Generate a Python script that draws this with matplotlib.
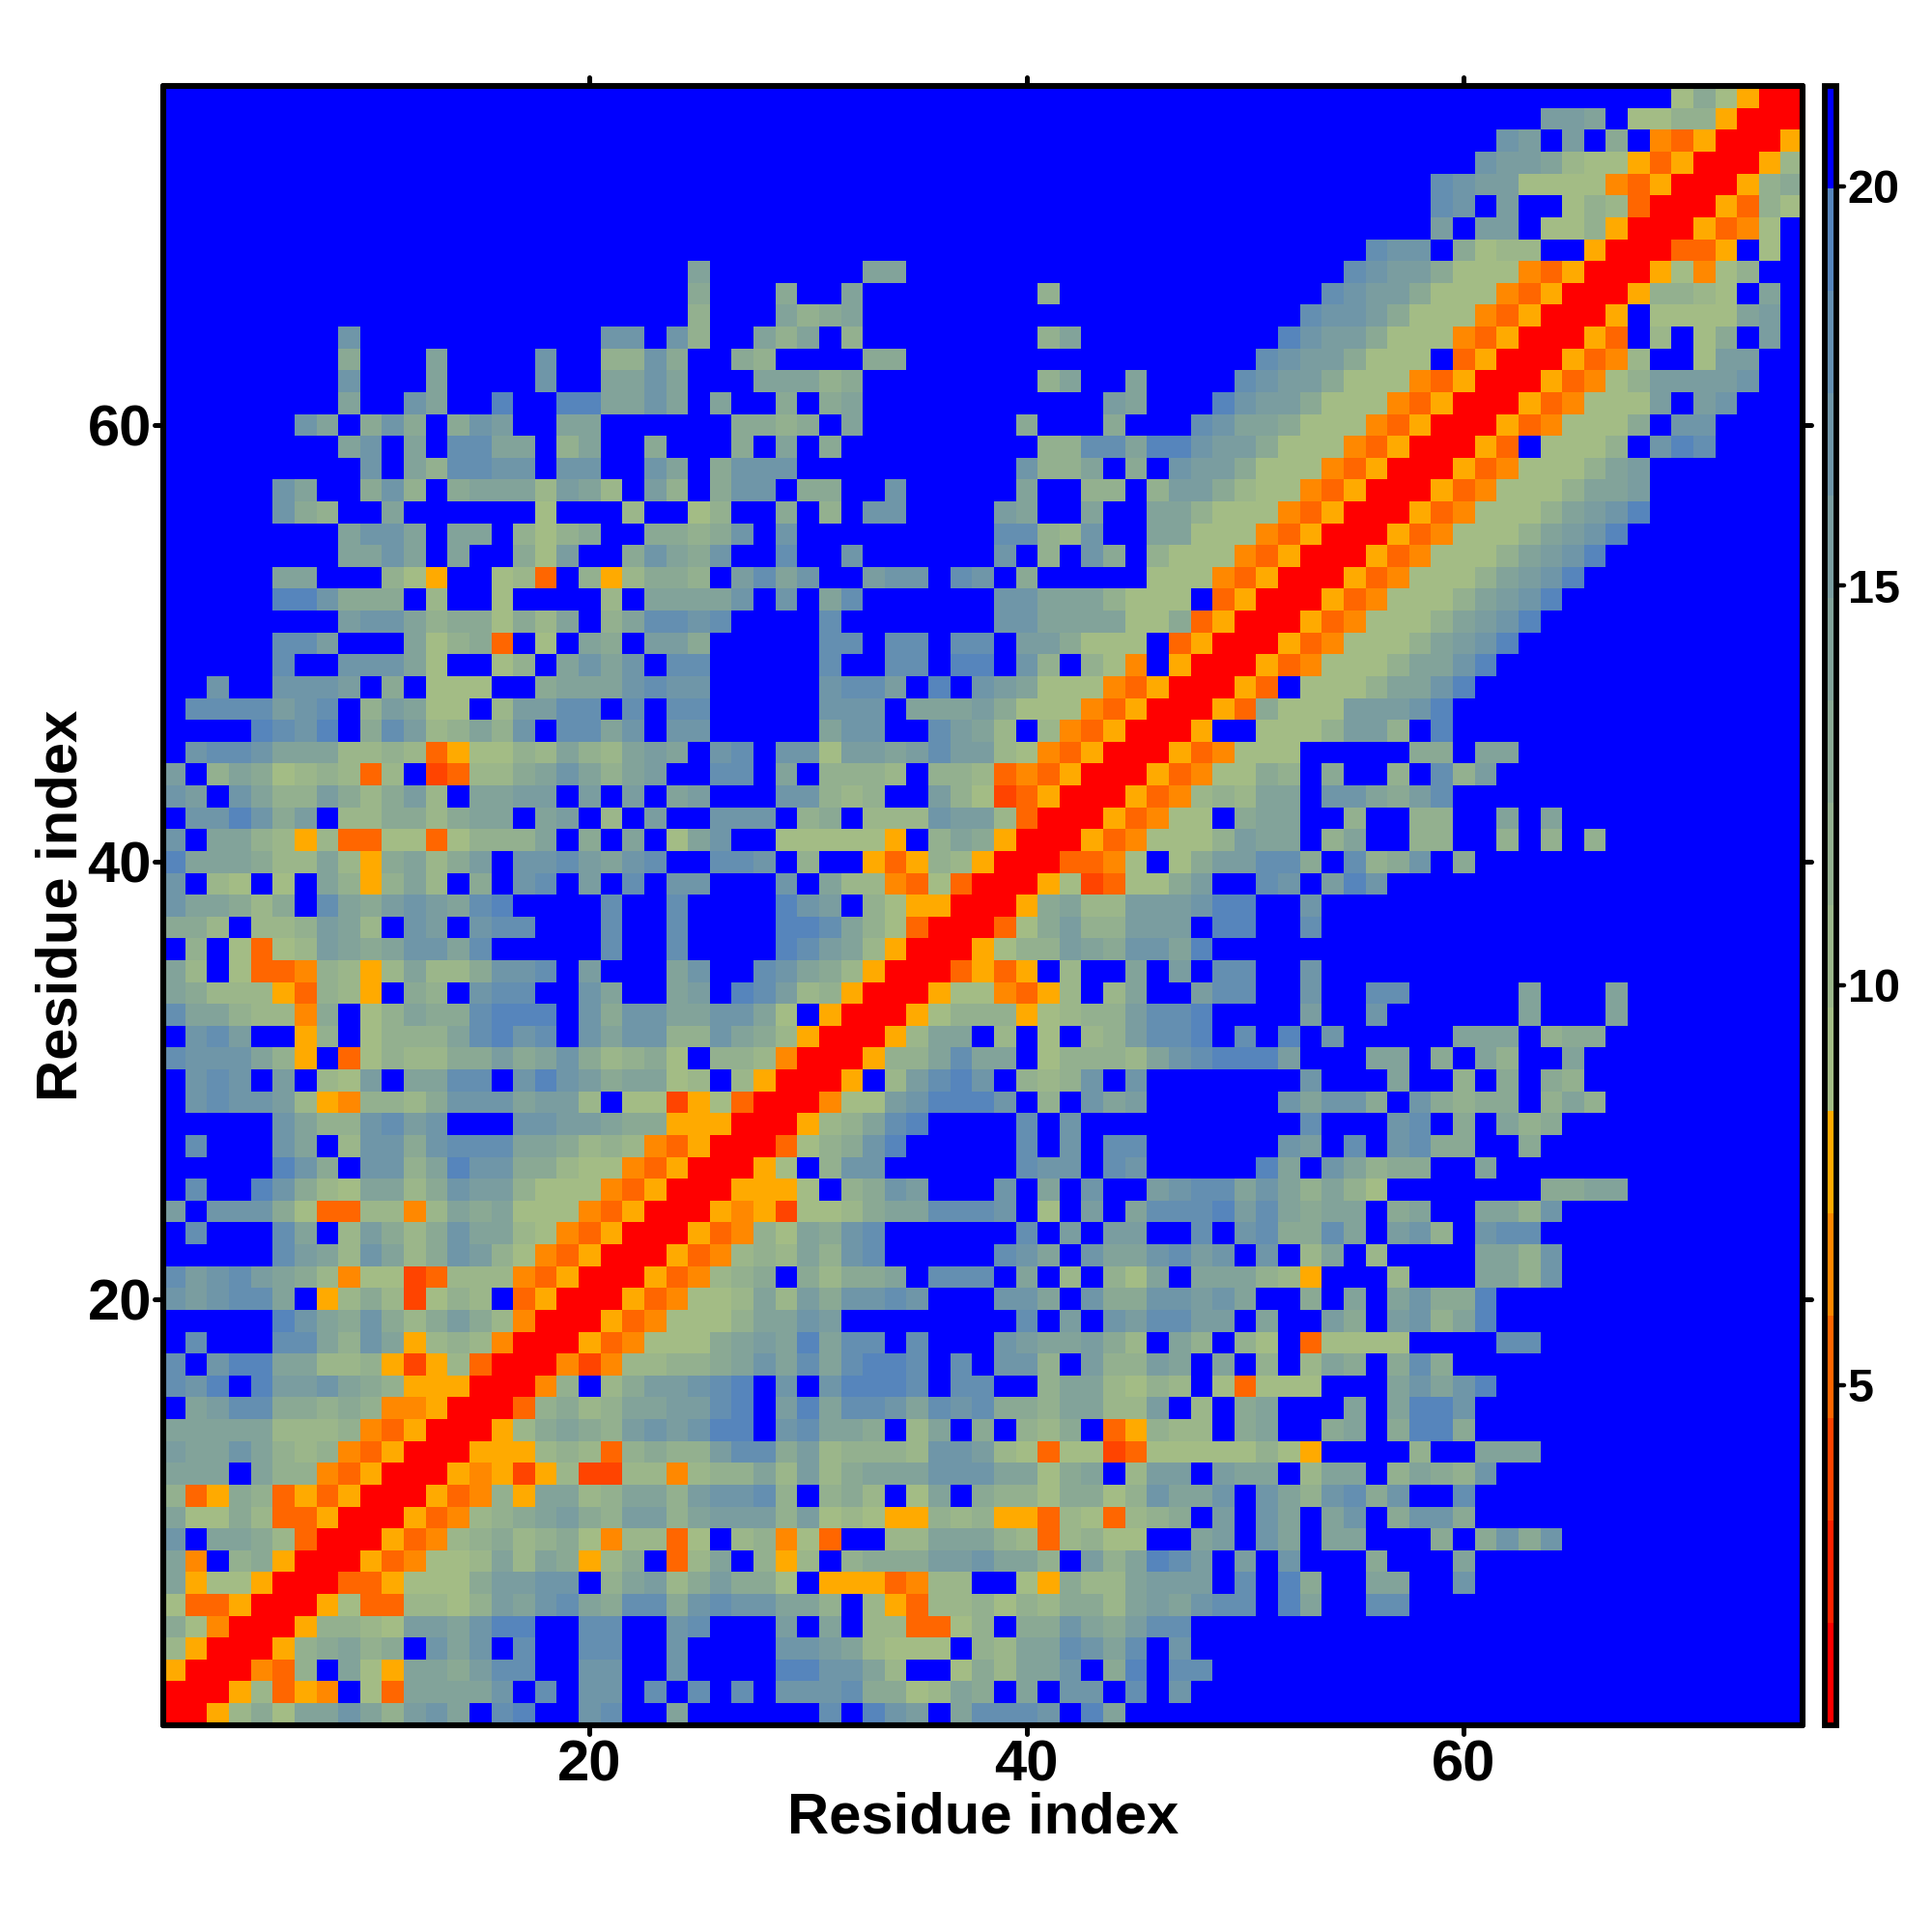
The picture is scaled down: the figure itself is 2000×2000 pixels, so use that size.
import matplotlib
matplotlib.use("Agg")
import matplotlib.pyplot as plt
import matplotlib.lines as mlines
from matplotlib.markers import MarkerStyle
from matplotlib.colors import ListedColormap, BoundaryNorm
import numpy as np

# Each row runs from the top of the map (residue 75) to the bottom (residue 1).
# One character per cell = a colour level of the distance scale.
COLS_01_25 = [
"","","","","","","","",
"..... ..... ..... ..... ....5",
"..... ..... ..... ..... ....4",
"..... ..... ..... ..... ....3",
"..... ...7. ..... ..... 77.73",
"..... ...4. ..5.. ..7.. 3374.",
"..... ...7. ..5.. ..7.. 5575.",
"..... ...5. .75.. 9..99 5575.",
"..... .75.4 74.47 6..55 .....",
"..... ...57 .5.88 55.35 ..4..",
"..... ....7 .5388 77.77 ..75.",
"..... 75..4 73.45 55265 2.63.",
"..... 743.. 5.... ..1.. .2..1",
"..... ...57 75.55 .3134 ..443",
"..... ...55 75.5. .416. .4754",
"..... 55... 31B.. 12D.3 B2443",
"..... 99744 4.2.. 1.... 2.555",
"..... ...67 75344 1425. 35887",
"..... 886.. .5134 D.1.5 4.664",
"..... 8..77 751.. 13.57 57.88",
"..7.. 7776. 4.111 ..455 57877",
".8888 678.3 6511. 26688 .8.88",
"....9 879.4 86235 37.88 57.77",
".7887 55522 32DB1 13253 2565.",
"6.354 1232D 2.ED2 24575 356..",
"76.75 33642 462.5 566.6 .6.56",
".7797 46.22 44245 5.56. 2.6..",
"7.553 2B2DD 11D13 335.4 .5.15",
"95554 2252B 45246 .7786 578..",
"7.21. 1.53B 352.4 .78.6 .8.77",
"75542 4.854 67658 9.... 8..8.",
"442.2 23652 .76.7 88... 8..8.",
".3.1D 12654 57758 ..... 8..8.",
"52.1D DC32B 25224 778.6 ...57",
"54222 BD32B .43.7 88..7 5..56",
"85532 2C4.1 35448 999.7 47755",
".786. .B3.1 33358 978.7 57733",
"87775 3B.D1 32244 64574 2341.",
".787. 6.216 .5588 .7976 45512",
".7877 62BC3 32477 75662 .11EB",
"..... 75337 867.. .7766 544BB",
".8... 75.27 74788 85542 32CDB",
"..... 974.7 73597 74421 1CDBR",
".8..9 74215 52476 63111 CDBRR",
"6.777 41DD2 2C254 5111C DBRRR",
".8... 85.26 42475 521CD BRRRB",
"..... 86527 52476 31CDB RRRBD",
"86786 542C1 1ED22 2CDBR RRBDC",
"76788 5.B24 2E132 .DBRR RBDC1",
"..... 97547 42464 2CRRR BDC11",
".8... 88537 5B232 CRRRB DC111",
"8.799 55223 BEB2D RRRCE C2233",
"879.9 66754 3BBBR RRC3. 24667",
".5688 44343 CCBRR RD342 35566",
"55555 2223C DBRRR B2454 36767",
"65575 323CD BRRRB BB232 D3433",
"555.5 33CDB RRRBC BEB2E E22C2",
"3DB43 DBDBR RRBDC 3B552 35536",
"51142 DDBRR RBDC2 34564 36635",
"7.554 2DRRR BDC23 42341 C22D1",
"5C.34 BRRRB DC112 5254B 24.D2",
"5B11B RRRDD B1114 6677. 35624",
"1DDBR RRB1D D2213 65785 48847",
"41CRR RB332 16657 99..8 8..78",
"2BRRR B3453 4.757 .8..8 8..7.",
"BRRRC D3.51 B5546 88..7 7..7.",
"RRRB2 DBC.1 D5555 7.8.7 7.8.8",
"RRB24 15575 3675. 89..7 8..5.",
]
COLS_26_50 = [
"","","","","","","","",
"..... ..55. ..... ..... .....",
"...4. .5... ..... 3.... .....",
"...53 45... ..... ..... .....",
"..535 .3... ..... 35... .....",
".43.. ..44. ..... ..... .....",
"..555 34... ..... 35..5 ....8",
"5..4. 45... ..... ...65 ...97",
".4434 .5... ....4 ...4. ..875",
".4.5. 4.... ..... 33885 99766",
"4777. ..... ....7 335.4 .7664",
"477.4 4..7. ....5 ..33. 36642",
"3..4. 3.77. ...65 ..5.. 55311",
"47.7. ..... ...88 327.. 55111",
"7..8. .7... ...7. 3.74. 3111C",
".6857 ..677 .87.4 ..... 111CD",
"57.7. 58... ...77 55531 11.DB",
"8.... 8.... ...77 55551 14DBR",
"..... 88.88 .88.6 64111 .DBRR",
"..... 8..88 .99.7 3.31C .BRRR",
"..... 7886. 9.765 111CD BRRRB",
"..... 777.5 55641 11CDB RRRBD",
"..... 577.. 8652. 2CDBR RRB..",
"78.77 16656 86621 CDBRR RBDC1",
"88.5. 3332. 332DC DBRRR BDC11",
"...77 323.. 631ED BRRRB DC232",
"777.3 4.222 7662D RRRBD C11.4",
"7..11 111B. 354BR RRBDC 11136",
"887.3 ..BDB 32BRR RDDC1 .1466",
"...7. 522CD 1DRRR B1ED1 146..",
"...97 6.31B BRRRB 45226 66799",
"...99 8531D RRRD1 46336 66.99",
"...98 652BR RRB13 36547 759..",
"..875 42BRR RDBDB .2..5 .6.88",
".9862 3BRRR B11CD B2.25 ..688",
"7751. BRRRB 1333B 12336 889..",
"7542B RRRB2 55.2. 1.236 889.8",
"332CR RRB33 5855. 13332 57899",
".2BRR RB.26 897.3 237.7 .....",
"1DRRR C1167 9997. 3.756 .....",
"BRRRB 23589 ....8 .7... .....",
"RRRD1 3479. ....8 .7.88 .....",
"RRB1. 377.. ....8 77.87 .....",
"RBBB1 .3476 ...7. 5.7.. 67885",
"BCBE1 12455 8887. 1.6.5 88896",
"DC315 478.. ....8 .6.66 ..8.7",
"C2325 378.. ...87 5.755 7867.",
"234.4 2445. 888.5 .2.31 5.555",
"12526 47787 ...77 5.744 77675",
"13557 6.... ....8 .6.76 8866.",
"45659 588.8 ...76 55642 .53.3",
"45758 58998 .8.77 3.633 65.5.",
"89.7. 79998 .88.. 35521 32.1D",
"89.69 58875 87844 35522 6.2.4",
"99.78 554.2 5.4.3 24.DB 322.4",
"68846 23332 77621 D11ED 11111",
"33526 24555 77755 145.2 66.65",
"7783. 342.1 5.433 14413 7557.",
"66636 121BB 323BB D21D2 34.6.",
".23C1 D..22 55532 D2311 ..56.",
"5.3B2 .3444 66755 3.635 986.6",
"6441. BBBDC 22..1 B4225 666.8",
"87755 3.2BD 22313 24425 65788",
"...6. 5.22D D13.4 47546 88...",
"...77 65211 1.325 58758 .7...",
"...99 7752. .1425 57.49 .88..",
".8.77 78441 254.5 .77.8 .7...",
"..... 8.976 .5888 7.95. .....",
]
COLS_51_75 = [
"..... ..... ..... ....1 41BRR",
"..... ..... ...66 5.113 3BRRR",
"..... ..... .76.6 .4.CD BRRRB",
"..... ..... 76652 11BDB RRRB2",
"..... ...87 66111 1CDBR RRB34",
"..... ...87 .6..1 32DRR RBD31",
"..... ...6. 66.11 3BRRR BDC1.",
"..... 877.4 122.. BRRRD DB.1.",
"....8 76641 11CDB RRRB1 C13..",
"...87 66411 1CDBR RRB33 21.5.",
"..877 64111 CDBRR RB.11 1156.",
".9766 4111C DBRRR BD.2. 14.6.",
"87664 111.D BRRRB DC2.. 166..",
"76641 11CDB RRRBD C1366 667..",
"66411 1CDBR RRBDC 1116. 67...",
"54111 CDBRR RBDC1 114.7 7....",
"4111C DBRRR BD.11 13.79 8....",
"111CD BRRRB DC111 356.. .....",
"11CDB RRRBD C1113 556.. .....",
"1CDBR RRBDC 11135 679.. .....",
"CDBRR RBDC1 11356 79... .....",
"DBRRR BDC11 13567 9.... .....",
"BRRRB DC111 35679 ..... .....",
"RRRBD C1113 5679. ..... .....",
"RRBDC 11135 679.. ..... .....",
"RBDC1 11356 79... ..... .....",
"BDC11 13557 9.... ..... .....",
"D.111 35579 ..... ..... .....",
"41116 66 79 ..... ..... .....",
"11136 63.9. ..... ..... .....",
"11... ..44. 55... ..... .....",
"43.4. .3.83 6.... ..... .....",
"55.77 5468. ..... ..... .....",
"55..3 ..33. .5.5. ..... .....",
"55.35 ..33. .3.3. 3.... .....",
"884.8 347.4 ..... ..... .....",
"87.69 7.... ..... ..... .....",
"..7.. ..... ..... ..... .....",
"..8.. ..... ..... ..... .....",
"..... ..... ..... ..... .....",
"..7.. ..... ..... ..... .....",
"..7.. 88... ..5.. .5... .....",
"..6.. 7.... ..5.. .5... .....",
".9.7. ....5 55.34 4.... .....",
"96... 55.4. 53..5 ..... .....",
"..7.. .5..3 .4.43 ..... .....",
".7577 4.743 44.35 3.... .....",
"..8.. .78.4 .534. ..... .....",
".76.8 .7844 ..4.. ..... .....",
"95.75 344.. 5.... ..... .....",
"75353 1.... ...44 55... .....",
"85455 .45.. 5537. ..... .....",
"84485 .673. 788.. ..... .....",
"7.25. 2.... 5537. ..... .....",
"32B.. .2... 5537. ..... .....",
"..4.5 .5744 9.... ..... .....",
"5..64 .6735 9.... ..... .....",
"1.D11 11... .88.. ..... .....",
"3.254 .484. ..... ..... .....",
"111.. .5757 9.... ..... .....",
"5...5 .5997 ..... ..... .....",
"5..45 .4994 ..... ..... .....",
"31B.. ..3.. 555.. ..... .....",
"5.255 .3543 7.... ..... .....",
"75378 47..8 ..... ..... .....",
"75.57 .4774 ..... ..... .....",
"75.55 ...4. 4747. ..... .....",
".7... 4...5 ..... ..... .....",
".94.. 55..7 ..... ..... .....",
".95.. 88... ..... ..... .....",
"","","","","",
]
LEVEL_CODES = "R?EDCB123456789."
LEVEL_COLORS = ["#ff0000", "#ff2200", "#ff4400", "#ff6600", "#ff8800", "#ffaa00",
                "#a3bc85", "#9bb68a", "#93b08f", "#8aa994", "#82a39a",
                "#7a9da0", "#6f96a8", "#648fb1", "#5685bc", "#0000ff"]
SCALE_MIN = 0.744
SCALE_MAX = 21.25
TICKS_MAIN = [20, 40, 60]
TICKS_BAR = [5, 10, 15, 20]
AXIS_LABEL = "Residue index"


def segment(text):
    return text.replace(" ", "").ljust(25, ".")[:25]


edges = np.linspace(SCALE_MIN, SCALE_MAX, len(LEVEL_CODES) + 1)
centres = 0.5 * (edges[:-1] + edges[1:])
lookup = {c: centres[i] for i, c in enumerate(LEVEL_CODES)}
rows = [segment(a) + segment(b) + segment(c)
        for a, b, c in zip(COLS_01_25, COLS_26_50, COLS_51_75)]
distance = np.array([[lookup[ch] for ch in row] for row in rows])[::-1]

plt.rcParams["font.family"] = ["Liberation Sans", "DejaVu Sans"]
plt.rcParams["font.weight"] = "bold"

W = 2000.0
fig = plt.figure(figsize=(20, 20), dpi=100, facecolor="white")
L, R, T, B = 169.2, 1866.0, 89.2, 1785.7
ax = fig.add_axes([L / W, 1 - B / W, (R - L) / W, (B - T) / W])
cmap = ListedColormap(LEVEL_COLORS)
norm = BoundaryNorm(edges, cmap.N)
grid = np.arange(0.5, 76.5, 1.0)
mesh = ax.pcolormesh(grid, grid, distance, cmap=cmap, norm=norm,
                     edgecolors="none", antialiased=False, rasterized=True)
ax.set_xlim(0.5, 75.5)
ax.set_ylim(0.5, 75.5)
ax.set_xticks(TICKS_MAIN)
ax.set_yticks(TICKS_MAIN)
ax.tick_params(axis="both", which="major", direction="out", length=6.2, width=3.6,
               top=True, right=True, labelsize=43, color="black")
ax.tick_params(axis="x", pad=4.5)
ax.tick_params(axis="y", pad=2.5)
for sp in ax.spines.values():
    sp.set_linewidth(4.4)
    sp.set_capstyle("round")
for t in ax.get_xticklabels() + ax.get_yticklabels():
    t.set_fontweight("bold")
for axis, down, other in ((ax.xaxis, mlines.TICKDOWN, mlines.TICKUP),
                          (ax.yaxis, mlines.TICKLEFT, mlines.TICKRIGHT)):
    for tk in axis.get_major_ticks():
        tk.tick1line.set_marker(MarkerStyle(down, capstyle="round"))
        tk.tick2line.set_marker(MarkerStyle(other, capstyle="round"))

fig.text(1018 / W, 1 - 1882 / W, AXIS_LABEL, fontsize=43, fontweight="bold",
         ha="center", va="center")
fig.text(64 / W, 1 - 937.5 / W, AXIS_LABEL, fontsize=43, fontweight="bold",
         rotation=90, ha="center", va="center")

cax = fig.add_axes([1889 / W, 1 - B / W, 12 / W, (B - T) / W])
cb = fig.colorbar(mesh, cax=cax, ticks=TICKS_BAR, spacing="proportional", drawedges=False)
cb.outline.set_linewidth(4.2)
cb.outline.set_capstyle("round")
cb.ax.tick_params(length=5.5, width=3.2, labelsize=35, pad=3, color="black")
cb.ax.minorticks_off()
cb.set_ticklabels([str(v) for v in TICKS_BAR])
for t in cb.ax.get_yticklabels():
    t.set_fontweight("bold")
for tk in cb.ax.yaxis.get_major_ticks():
    tk.tick2line.set_marker(MarkerStyle(mlines.TICKRIGHT, capstyle="round"))

fig.savefig("out.png", dpi=100, facecolor="white")
